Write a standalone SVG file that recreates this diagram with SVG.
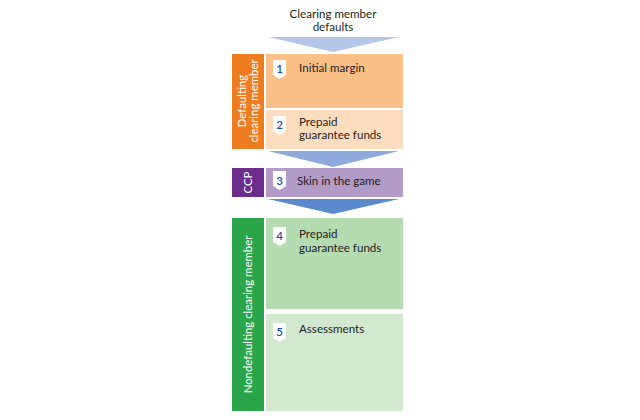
<svg xmlns="http://www.w3.org/2000/svg" width="640" height="420" viewBox="0 0 640 420">
<defs>
<style>
.lbl{font-family:Lato,"Open Sans","Liberation Sans",sans-serif;font-size:11.6px;fill:#231F20}
.side{font-family:Lato,"Open Sans","Liberation Sans",sans-serif;font-size:11.4px;fill:#FFFFFF;text-anchor:middle}
.num{font-family:Lato,"Open Sans","Liberation Sans",sans-serif;font-size:11.5px;fill:#1F4E9C;text-anchor:middle;font-weight:600}
.badge{fill:#FFFFFF}
</style>
<path id="bdg" d="M0,0 h13 v15 l-6.5,4 l-6.5,-4 z"/>
</defs>
<rect width="640" height="420" fill="#FFFFFF"/>
<g id="title">
<text class="lbl" x="333" y="18" text-anchor="middle">Clearing member</text>
<text class="lbl" x="333" y="31" text-anchor="middle">defaults</text>
</g>
<g id="connectors">
<polygon points="268,37 399,37 333,52" fill="#B4C7E7"/>
<polygon points="268,151 399,151 333,167" fill="#8EA9DB"/>
<polygon points="268,199 399,199 333,214" fill="#5A8ACB"/>
</g>
<g id="defaulting">
<rect x="232" y="54" width="32" height="95" fill="#EE7D22"/>
<text class="side" transform="translate(248,101) rotate(-90)"><tspan x="0" y="-2">Defaulting</tspan><tspan x="0" y="10">clearing member</tspan></text>
</g>
<g id="box1">
<rect x="266" y="54" width="137" height="54" fill="#FBBF88"/>
<use href="#bdg" x="273" y="60" class="badge"/>
<text class="num" x="279.5" y="73">1</text>
<text class="lbl" x="299" y="72">Initial margin</text>
</g>
<g id="box2">
<rect x="266" y="110" width="137" height="39" fill="#FDDDBE"/>
<use href="#bdg" x="273" y="116" class="badge"/>
<text class="num" x="279.5" y="129">2</text>
<text class="lbl" x="299" y="126">Prepaid</text>
<text class="lbl" x="299" y="139">guarantee funds</text>
</g>
<g id="ccp">
<rect x="232" y="168" width="32" height="29" fill="#6B2C8C"/>
<text class="side" transform="translate(252,182.5) rotate(-90)" x="0" y="0">CCP</text>
</g>
<g id="box3">
<rect x="266" y="168" width="137" height="29" fill="#B39BC8"/>
<use href="#bdg" x="273" y="171" class="badge"/>
<text class="num" x="279.5" y="185">3</text>
<text class="lbl" x="297" y="185">Skin in the game</text>
</g>
<g id="nondefaulting">
<rect x="232" y="218" width="32" height="193" fill="#2AA54A"/>
<text class="side" transform="translate(252,314.5) rotate(-90)" x="0" y="0">Nondefaulting clearing member</text>
</g>
<g id="box4">
<rect x="266" y="218" width="137" height="91" fill="#B5DBB1"/>
<use href="#bdg" x="273" y="227" class="badge"/>
<text class="num" x="279.5" y="240">4</text>
<text class="lbl" x="299" y="238">Prepaid</text>
<text class="lbl" x="299" y="252">guarantee funds</text>
</g>
<g id="box5">
<rect x="266" y="314" width="137" height="97" fill="#D3E9CF"/>
<use href="#bdg" x="273" y="323" class="badge"/>
<text class="num" x="279.5" y="336">5</text>
<text class="lbl" x="299" y="333">Assessments</text>
</g>
</svg>
